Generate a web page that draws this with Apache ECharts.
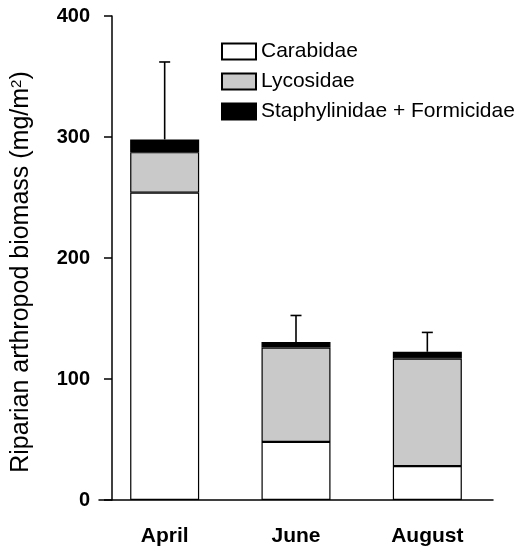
<!DOCTYPE html>
<html>
<head>
<meta charset="utf-8">
<script src="https://cdn.jsdelivr.net/npm/echarts@6/dist/echarts.min.js"></script>
<style>
  html, body { margin: 0; padding: 0; background: #fff; }
  #main { width: 518px; height: 550px; }
</style>
</head>
<body>
<div id="main"></div>
<script>
  const months = ['April', 'June', 'August']
  const carabidae = [254, 48, 28]
  const lycosidae = [33.5, 78, 89]
  const staphFormic = [10.5, 4.5, 5.5]
  const stdErr = [64, 22, 16]
  const yTicks = [0, 100, 200, 300, 400]

  const font = '"Liberation Sans", Arial, sans-serif'
  const totals = months.map((m, i) => carabidae[i] + lycosidae[i] + staphFormic[i])

  const barStyle = (color) => ({
    color: color,
    borderColor: '#000',
    borderWidth: 1.2
  })

  const chart = echarts.init(document.getElementById('main'))
  chart.setOption({
    animation: false,
    textStyle: { fontFamily: font, color: '#000' },
    grid: {
      left: 99,
      right: 25,
      top: 16,
      bottom: 50,
      containLabel: false,
      outerBoundsMode: 'none'
    },
    legend: {
      data: ['Carabidae', 'Lycosidae', 'Staphylinidae + Formicidae'],
      orient: 'vertical',
      left: 221,
      top: 41,
      padding: 0,
      icon: 'rect',
      itemWidth: 34,
      itemHeight: 16,
      itemGap: 9,
      selectedMode: false,
      textStyle: { fontSize: 21, fontFamily: font, color: '#000' }
    },
    xAxis: {
      type: 'category',
      data: months,
      axisLine: { lineStyle: { color: '#000', width: 1.5 } },
      axisTick: {
        alignWithLabel: true,
        length: 7,
        lineStyle: { color: '#000', width: 1.5 }
      },
      axisLabel: {
        margin: 26,
        fontSize: 21,
        fontWeight: 'bold',
        color: '#000'
      }
    },
    yAxis: {
      type: 'value',
      offset: -13, // y axis sits a little inside the first band
      min: yTicks[0],
      max: yTicks[yTicks.length - 1],
      interval: 100,
      splitLine: { show: false },
      axisLine: { show: true, lineStyle: { color: '#000', width: 1.5 } },
      axisTick: { show: true, length: 8, lineStyle: { color: '#000', width: 1.5 } },
      axisLabel: { margin: 22, fontSize: 20, fontWeight: 'bold', color: '#000' },
      name: 'Riparian arthropod biomass (mg/m{sup|2})',
      nameLocation: 'middle',
      nameGap: 78,
      nameTextStyle: {
        fontSize: 25,
        color: '#000',
        padding: [0, 28, 0, 0],
        rich: {
          sup: { fontSize: 15, verticalAlign: 'top', padding: [0, 0, 10, 0] }
        }
      }
    },
    series: [
      {
        name: 'Carabidae',
        type: 'bar',
        stack: 'biomass',
        barWidth: 69,
        itemStyle: barStyle('#fff'),
        data: carabidae
      },
      {
        name: 'Lycosidae',
        type: 'bar',
        stack: 'biomass',
        barWidth: 69,
        itemStyle: barStyle('#c9c9c9'),
        data: lycosidae
      },
      {
        name: 'Staphylinidae + Formicidae',
        type: 'bar',
        stack: 'biomass',
        barWidth: 69,
        itemStyle: barStyle('#000'),
        data: staphFormic
      },
      {
        // upper error bars
        type: 'custom',
        data: months.map((m, i) => [i, totals[i], totals[i] + stdErr[i]]),
        z: 5,
        renderItem: (params, api) => {
          const base = api.coord([api.value(0), api.value(1)])
          const top = api.coord([api.value(0), api.value(2)])
          const half = 5.5
          const style = { stroke: '#000', lineWidth: 1.6 }
          return {
            type: 'group',
            children: [
              { type: 'line', shape: { x1: base[0], y1: base[1], x2: top[0], y2: top[1] }, style },
              { type: 'line', shape: { x1: top[0] - half, y1: top[1], x2: top[0] + half, y2: top[1] }, style }
            ]
          }
        }
      }
    ]
  })
</script>
</body>
</html>
